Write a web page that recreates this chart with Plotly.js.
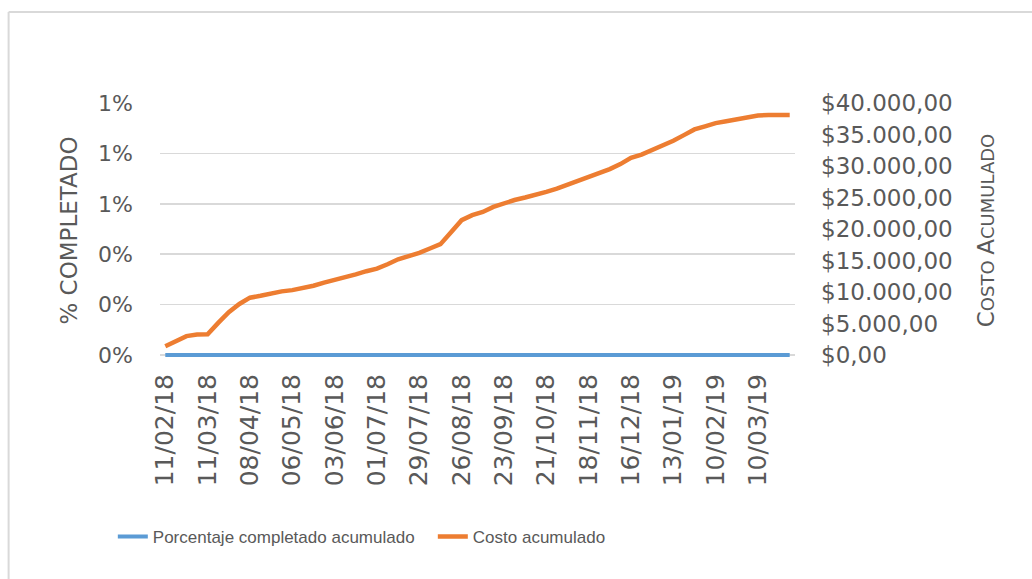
<!DOCTYPE html>
<html>
<head>
<meta charset="utf-8">
<script src="https://cdn.plot.ly/plotly-3.0.1.min.js"></script>
<style>
  html, body { margin: 0; padding: 0; background: #ffffff; }
  #chart { width: 1032px; height: 579px; }
</style>
</head>
<body>
<div id="chart"></div>
<script>
// Weekly categories (dd/mm/yy)
const semanas = [
  "11/02/18","18/02/18","25/02/18","04/03/18","11/03/18","18/03/18","25/03/18","01/04/18",
  "08/04/18","15/04/18","22/04/18","29/04/18","06/05/18","13/05/18","20/05/18","27/05/18",
  "03/06/18","10/06/18","17/06/18","24/06/18","01/07/18","08/07/18","15/07/18","22/07/18",
  "29/07/18","05/08/18","12/08/18","19/08/18","26/08/18","02/09/18","09/09/18","16/09/18",
  "23/09/18","30/09/18","07/10/18","14/10/18","21/10/18","28/10/18","04/11/18","11/11/18",
  "18/11/18","25/11/18","02/12/18","09/12/18","16/12/18","23/12/18","30/12/18","06/01/19",
  "13/01/19","20/01/19","27/01/19","03/02/19","10/02/19","17/02/19","24/02/19","03/03/19",
  "10/03/19","17/03/19","24/03/19","31/03/19"
];

// Tick labels shown on the x axis (every 4 weeks)
const etiquetasX = [
  "11/02/18","11/03/18","08/04/18","06/05/18","03/06/18","01/07/18","29/07/18","26/08/18",
  "23/09/18","21/10/18","18/11/18","16/12/18","13/01/19","10/02/19","10/03/19"
];

// Porcentaje completado acumulado (fraction)
const porcentajeCompletado = [
  0,0,0,0,0,0,0,0,0,0,0,0,0,0,0,0,0,0,0,0,
  0,0,0,0,0,0,0,0,0,0,0,0,0,0,0,0,0,0,0,0,
  0,0,0,0,0,0,0,0,0,0,0,0,0,0,0,0,0,0,0,0
];

// Costo acumulado ($)
const costoAcumulado = [
  1400, 2200, 3000, 3250, 3300, 5100, 6800, 8100, 9100, 9400,
  9800, 10100, 10300, 10600, 11000, 11500, 11900, 12300, 12800, 13300,
  13700, 14400, 15200, 15700, 16200, 16900, 17600, 19500, 21400, 22200,
  22700, 23500, 24100, 24600, 25000, 25400, 25900, 26400, 27000, 27600,
  28300, 28900, 29500, 30300, 31300, 31800, 32500, 33200, 34000, 34900,
  35800, 36300, 36800, 37100, 37400, 37700, 38000, 38100, 38100, 38100
];

const gris = "#595959";
const fuente = "DejaVu Sans";

const traces = [
  {
    x: semanas, y: porcentajeCompletado, type: "scatter", mode: "lines",
    name: "Porcentaje completado acumulado",
    line: { color: "#5B9BD5", width: 4 },
    yaxis: "y"
  },
  {
    x: semanas, y: costoAcumulado, type: "scatter", mode: "lines",
    name: "Costo acumulado",
    line: { color: "#ED7D31", width: 4.5 },
    yaxis: "y2"
  }
];

// plot area: x 159.5..795, y 103..358 (3px below the zero line so the blue line is not clipped)
const layout = {
  width: 1032, height: 579,
  paper_bgcolor: "#ffffff", plot_bgcolor: "#ffffff",
  separators: ",.",
  margin: { l: 160, r: 237, t: 103, b: 221, pad: 0 },
  showlegend: true,
  legend: {
    orientation: "h", x: -0.0743, xanchor: "left", y: -0.702, yanchor: "middle",
    font: { family: "Liberation Sans, Arial, sans-serif", size: 17, color: gris },
    entrywidth: 275,
    bgcolor: "rgba(0,0,0,0)"
  },
  xaxis: {
    type: "category",
    categoryorder: "array", categoryarray: semanas,
    range: [-0.5, semanas.length - 0.5],
    tickmode: "array", tickvals: etiquetasX, ticktext: etiquetasX,
    tickangle: -90,
    tickfont: { family: fuente, size: 25, color: gris },
    ticklabelstandoff: 10,
    showgrid: false, zeroline: false, showline: false, ticks: ""
  },
  yaxis: {
    range: [-0.01 * 3 / 252, 0.01], dtick: 0.002, tick0: 0, tickformat: ".0%",
    tickfont: { family: fuente, size: 22, color: gris },
    ticklabelstandoff: 26,
    showgrid: true, gridcolor: "#d9d9d9", gridwidth: 1.5,
    zeroline: false, showline: false, ticks: "",
    title: { text: "% COMPLETADO", font: { family: fuente, size: 23, color: gris }, standoff: 14 }
  },
  yaxis2: {
    overlaying: "y", side: "right",
    range: [-40000 * 3 / 252, 40000], dtick: 5000, tick0: 0, tickformat: "$,.2f",
    tickfont: { family: fuente, size: 23, color: gris },
    ticklabelstandoff: 25,
    showgrid: false, zeroline: false, showline: false, ticks: "",
    title: {
      text: 'C<span style="font-size:18px">OSTO </span>A<span style="font-size:18px">CUMULADO</span>',
      font: { family: fuente, size: 23, color: gris }, standoff: 26
    }
  },
  shapes: [
    { type: "line", xref: "paper", yref: "paper", x0: -0.2384, x1: -0.2384, y0: 1.357, y1: -0.9,
      line: { color: "#d9d9d9", width: 2 } },
    { type: "line", xref: "paper", yref: "paper", x0: -0.2384, x1: 1.38, y0: 1.357, y1: 1.357,
      line: { color: "#d9d9d9", width: 2 } }
  ]
};

Plotly.newPlot("chart", traces, layout, { staticPlot: true, displayModeBar: false });
</script>
</body>
</html>
